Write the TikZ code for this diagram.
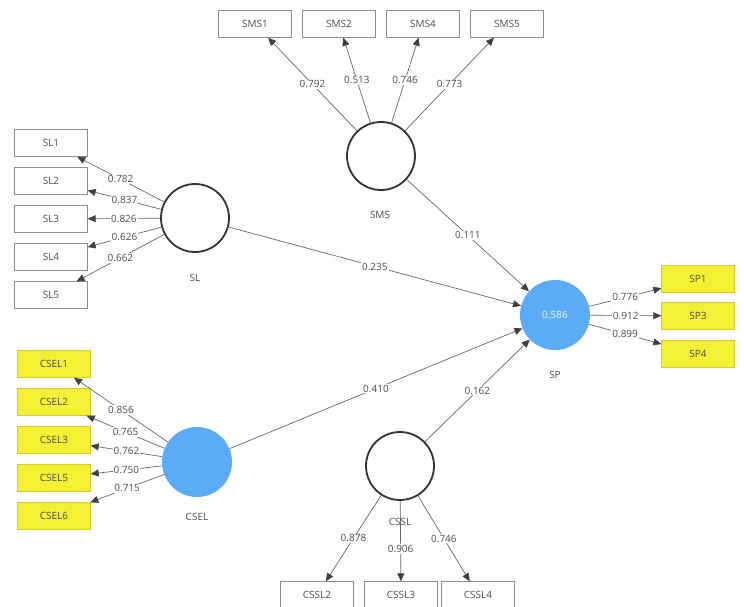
\documentclass[tikz,border=0pt]{standalone}
\usepackage{fontspec}
\setmainfont{Open Sans}
\usetikzlibrary{arrows.meta, positioning}

\definecolor{lvblue}{RGB}{90,172,246}
\definecolor{indyellow}{RGB}{244,240,52}

\begin{document}
\begin{tikzpicture}[
    x=1pt, y=-1pt,
    every node/.style={font=\fontsize{10}{11}\selectfont, text=black!70},
    ind/.style={rectangle, draw=black!45, minimum width=73pt, minimum height=27pt, inner sep=0pt},
    indy/.style={ind, draw=indyellow!85!black, fill=indyellow},
    lv/.style={circle, draw=black!80, line width=1.8pt, minimum size=68pt, inner sep=0pt},
    lvb/.style={circle, fill=lvblue, minimum size=70pt, inner sep=0pt},
    lvname/.style={text=black!70},
    load/.style={draw=black!60, line width=0.7pt, -{Triangle[length=8pt,width=7pt,color=black!75]}},
    coef/.style={fill=white, inner sep=1pt, midway}
]
\useasboundingbox (0,0) rectangle (744,607);

% Latent variables
\node[lv] (sms) at (381,156) {};
\node[lvname] at (380,215) {SMS};
\node[lv] (sl) at (195,218) {};
\node[lvname] at (195,278) {SL};
\node[lvb] (csel) at (197,462) {};
\node[lvname] at (197,517) {CSEL};
\node[lv] (cssl) at (400,466) {};
\node[lvb, text=white] (sp) at (555,315) {0.586};
\node[lvname] at (555,375) {SP};

% SMS indicators
\node[ind] (sms1) at (255,24) {SMS1};
\node[ind] (sms2) at (339,24) {SMS2};
\node[ind] (sms4) at (423,24) {SMS4};
\node[ind] (sms5) at (507,24) {SMS5};
\draw[load] (sms) -- node[coef] {0.792} (sms1);
\draw[load] (sms) -- node[coef] {0.513} (sms2);
\draw[load] (sms) -- node[coef] {0.746} (sms4);
\draw[load] (sms) -- node[coef] {0.773} (sms5);

% SL indicators
\node[ind] (sl1) at (51,143) {SL1};
\node[ind] (sl2) at (51,181) {SL2};
\node[ind] (sl3) at (51,219) {SL3};
\node[ind] (sl4) at (51,257) {SL4};
\node[ind] (sl5) at (51,295) {SL5};
\draw[load] (sl) -- node[coef] {0.782} (sl1);
\draw[load] (sl) -- node[coef] {0.837} (sl2);
\draw[load] (sl) -- node[coef] {0.826} (sl3);
\draw[load] (sl) -- node[coef] {0.626} (sl4);
\draw[load] (sl) -- node[coef] {0.662} (sl5);

% CSEL indicators
\node[indy] (csel1) at (54,364) {CSEL1};
\node[indy] (csel2) at (54,402) {CSEL2};
\node[indy] (csel3) at (54,440) {CSEL3};
\node[indy] (csel5) at (54,478) {CSEL5};
\node[indy] (csel6) at (54,516) {CSEL6};
\draw[load] (csel) -- node[coef] {0.856} (csel1);
\draw[load] (csel) -- node[coef] {0.765} (csel2);
\draw[load] (csel) -- node[coef] {0.762} (csel3);
\draw[load] (csel) -- node[coef] {0.750} (csel5);
\draw[load] (csel) -- node[coef] {0.715} (csel6);

% CSSL indicators
\node[ind] (cssl2) at (317,595) {CSSL2};
\node[ind] (cssl3) at (401,595) {CSSL3};
\node[ind] (cssl4) at (478,595) {CSSL4};
\draw[load] (cssl) -- node[coef] {0.878} (cssl2);
\draw[load] (cssl) -- node[coef, pos=0.6] {0.906} (cssl3);
\draw[load] (cssl) -- node[coef] {0.746} (cssl4);
\node[lvname] at (400,522) {CSSL};

% SP indicators
\node[indy] (sp1) at (698,279) {SP1};
\node[indy] (sp3) at (698,316) {SP3};
\node[indy] (sp4) at (698,354) {SP4};
\draw[load] (sp) -- node[coef] {0.776} (sp1);
\draw[load] (sp) -- node[coef] {0.912} (sp3);
\draw[load] (sp) -- node[coef] {0.899} (sp4);

% Paths
\draw[load] (sms) -- node[coef] {0.111} (sp);
\draw[load] (sl) -- node[coef] {0.235} (sp);
\draw[load] (csel) -- node[coef] {0.410} (sp);
\draw[load] (cssl) -- node[coef] {0.162} (sp);
\end{tikzpicture}
\end{document}
